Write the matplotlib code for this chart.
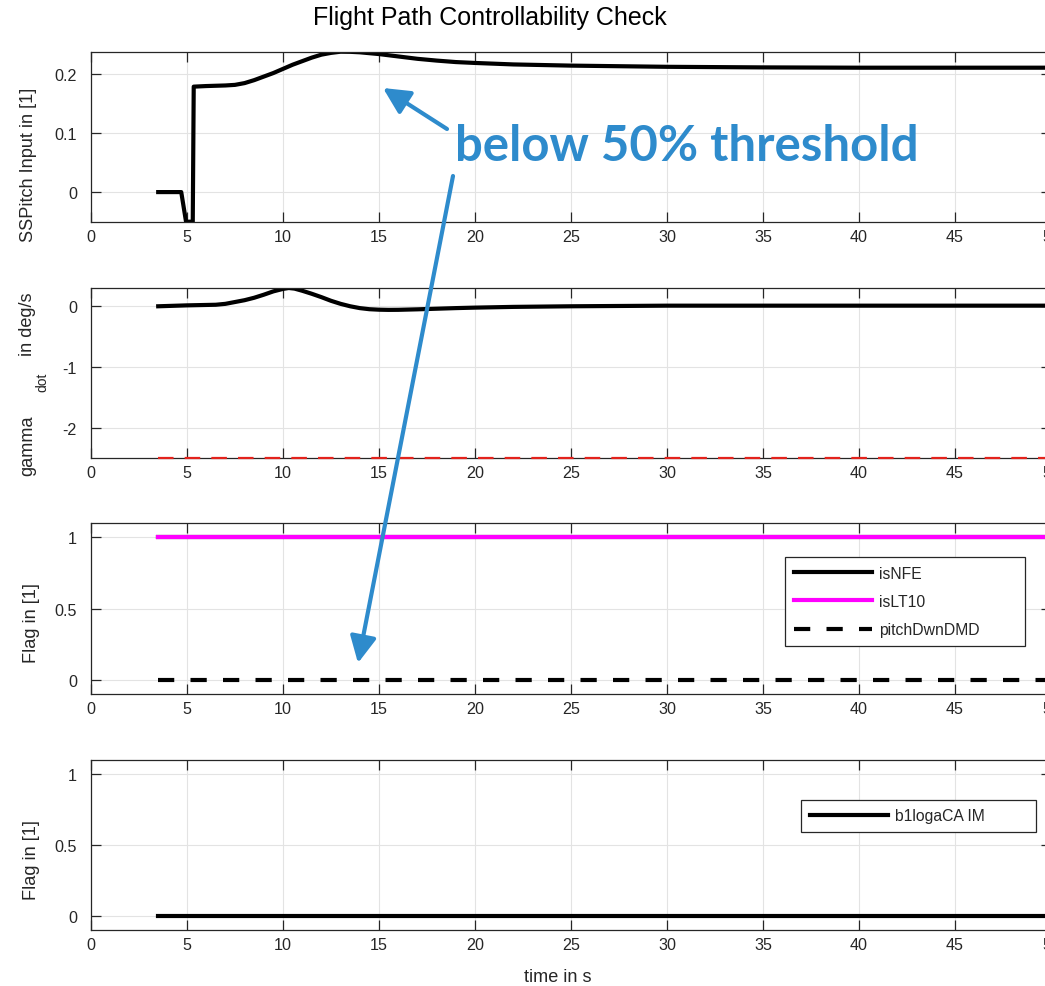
import numpy as np
import matplotlib
matplotlib.use("Agg")
import matplotlib.pyplot as plt

plt.rcParams["font.family"] = ["Liberation Sans", "DejaVu Sans"]

W, H = 1045, 987

# ---- data ----
t_pitch = [3.5, 4.7, 4.95, 5.3, 5.35, 6.0, 6.5, 7.0, 7.5, 8.0, 8.5, 9.0, 9.5, 10.0, 10.5,
           11.0, 11.5, 12.0, 12.5, 13.0, 13.5, 14.0, 15.0, 16.0, 17.0, 18.0, 19.0, 20.0,
           22.0, 25.0, 30.0, 35.0, 40.0, 45.0, 50.0]
ss_pitch = [0.0, 0.0, -0.05, -0.05, 0.178, 0.179, 0.1795, 0.180, 0.181, 0.184, 0.189, 0.195,
            0.201, 0.208, 0.215, 0.221, 0.227, 0.232, 0.235, 0.237, 0.2368, 0.236, 0.233,
            0.229, 0.225, 0.222, 0.2195, 0.218, 0.2155, 0.2135, 0.2115, 0.2105, 0.210, 0.210, 0.210]

t_gamma = [3.5, 5.0, 6.5, 7.0, 7.5, 8.0, 8.5, 9.0, 9.5, 10.0, 10.3, 10.6, 11.0, 11.5, 12.0,
           12.5, 13.0, 13.5, 14.0, 14.5, 15.0, 15.5, 16.0, 17.0, 18.0, 19.0, 20.0, 22.0,
           25.0, 28.0, 30.0, 40.0, 50.0]
gamma_dot = [-0.01, 0.005, 0.015, 0.03, 0.06, 0.09, 0.13, 0.18, 0.235, 0.275, 0.29, 0.28,
             0.245, 0.195, 0.14, 0.08, 0.03, -0.01, -0.04, -0.058, -0.066, -0.069, -0.068,
             -0.06, -0.05, -0.04, -0.032, -0.02, -0.01, -0.004, 0.0, 0.0, 0.0]
gamma_limit = -2.5

t_flag = [3.5, 50.0]
is_nfe = [1, 1]
is_lt10 = [1, 1]
pitch_dwn_dmd = [0, 0]
b1loga_ca_im = [0, 0]

x_ticks = [0, 5, 10, 15, 20, 25, 30, 35, 40, 45, 50]
x_tick_labels = ["0", "5", "10", "15", "20", "25", "30", "35", "40", "45", "50"]
y1_ticks, y1_labels = [0, 0.1, 0.2], ["0", "0.1", "0.2"]
y2_ticks, y2_labels = [-2, -1, 0], ["-2", "-1", "0"]
flag_ticks, flag_labels = [0, 0.5, 1], ["0", "0.5", "1"]

# ---- layout helpers ----
INK = "#262626"
BLUE = "#2E8BCC"

fig = plt.figure(figsize=(W / 100, H / 100), dpi=100)


def px_axes(left, top, right, bottom):
    return fig.add_axes([left / W, 1 - bottom / H, (right - left) / W, (bottom - top) / H])


def style(ax, yticks, ylabels, ylim):
    ax.set_xlim(0, 50)
    ax.set_ylim(*ylim)
    ax.set_xticks(x_ticks, x_tick_labels)
    ax.set_yticks(yticks, ylabels)
    ax.tick_params(axis="both", direction="in", top=True, right=True, length=7,
                   width=0.9, color=INK, labelcolor=INK, labelsize=11.6)
    ax.tick_params(axis="y", pad=10)
    ax.tick_params(axis="x", pad=5)
    ax.grid(True, color="#e3e3e3", linewidth=0.8)
    ax.set_axisbelow(True)
    for s in ax.spines.values():
        s.set_color(INK)
        s.set_linewidth(0.9)


ax1 = px_axes(91, 52.7, 1051, 222.7)
ax2 = px_axes(91, 289, 1051, 459)
ax3 = px_axes(91, 524, 1051, 695)
ax4 = px_axes(91, 760.7, 1051, 931)

style(ax1, y1_ticks, y1_labels, (-0.05, 0.237))
style(ax2, y2_ticks, y2_labels, (-2.5, 0.29))
style(ax3, flag_ticks, flag_labels, (-0.1, 1.1))
style(ax4, flag_ticks, flag_labels, (-0.1, 1.1))

ax1.plot(t_pitch, ss_pitch, color="black", lw=3)

ax2.plot(t_gamma, gamma_dot, color="black", lw=3)
ax2.plot(t_flag, [gamma_limit, gamma_limit], color="#e3231c", lw=1.6, dashes=(7, 5),
         zorder=3, clip_on=False)

ax3.plot(t_flag, is_nfe, color="black", lw=3, label="isNFE")
ax3.plot(t_flag, is_lt10, color="#ff00ff", lw=3, label="isLT10")
ax3.plot(t_flag, pitch_dwn_dmd, color="black", lw=3, dashes=(3.9, 3.9), label="pitchDwnDMD")

ax4.plot(t_flag, b1loga_ca_im, color="black", lw=3, label="b1logaCA IM")

leg_kw = dict(loc="upper left", mode="expand", bbox_transform=fig.transFigure,
              borderaxespad=0, fancybox=False, framealpha=1, edgecolor=INK,
              fontsize=11.3, handlelength=5.0, handletextpad=0.45, borderpad=0.55,
              labelspacing=0.85)
lg3 = ax3.legend(bbox_to_anchor=(785 / W, 1 - 559 / H, 240 / W, 0.001), **leg_kw)
lg4 = ax4.legend(bbox_to_anchor=(801 / W, 1 - 801.7 / H, 235 / W, 0.001), **leg_kw)
for lg in (lg3, lg4):
    lg.get_frame().set_linewidth(0.9)
    for txt in lg.get_texts():
        txt.set_color(INK)

# ---- labels ----
fig.text(490 / W, 1 - 18 / H, "Flight Path Controllability Check", ha="center", va="center",
         fontsize=18, color="black")
fig.text(557.5 / W, 1 - 978 / H, "time in s", ha="center", va="center", fontsize=13.1, color=INK)
fig.text(29 / W, 1 - 164.5 / H, "SSPitch Input in [1]", rotation=90, ha="center", va="center",
         fontsize=13.1, color=INK)
fig.text(32 / W, 1 - 623 / H, "Flag in [1]", rotation=90, ha="center", va="center",
         fontsize=13.1, color=INK)
fig.text(32 / W, 1 - 860 / H, "Flag in [1]", rotation=90, ha="center", va="center",
         fontsize=13.1, color=INK)
fig.text(28 / W, 1 - 324 / H, "in deg/s", rotation=90, ha="center", va="center",
         fontsize=13.1, color=INK)
fig.text(42 / W, 1 - 382 / H, "dot", rotation=90, ha="center", va="center",
         fontsize=10, color=INK)
fig.text(28 / W, 1 - 445.5 / H, "gamma", rotation=90, ha="center", va="center",
         fontsize=13.1, color=INK)

# ---- callout ----
callout = fig.text(455 / W, 1 - 161 / H, "below 50% threshold", ha="left", va="baseline",
                   fontsize=36, fontweight="bold", family="Lato", color=BLUE)
fig.canvas.draw()
bb = callout.get_window_extent()
callout.set_fontsize(36 * 463 / bb.width)

arrow_kw = dict(arrowstyle="-|>,head_length=1.0,head_width=0.5", color=BLUE, lw=3,
                shrinkA=0, shrinkB=0, mutation_scale=16)
fig.add_artist(matplotlib.patches.FancyArrowPatch((447 / W, 1 - 130 / H), (383 / W, 1 - 89 / H),
                                                  transform=fig.transFigure, **arrow_kw))
fig.add_artist(matplotlib.patches.FancyArrowPatch((453 / W, 1 - 177 / H), (358 / W, 1 - 664 / H),
                                                  transform=fig.transFigure, **arrow_kw))

fig.savefig("out.png", dpi=100)
